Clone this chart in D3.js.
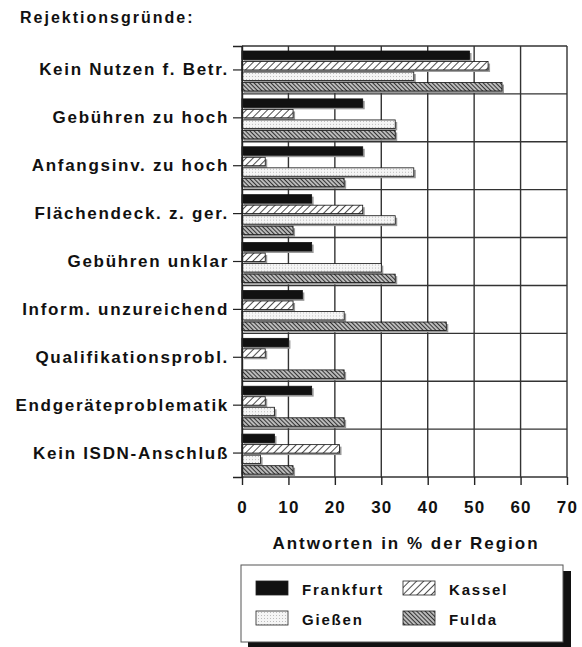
<!DOCTYPE html>
<html>
<head>
<meta charset="utf-8">
<script src="https://cdn.jsdelivr.net/npm/d3@7"></script>
<style>
  body { margin: 0; background: #fff; }
  text { font-family: "Liberation Sans", Arial, sans-serif; font-weight: bold; fill: #111; }
</style>
</head>
<body>
<div id="chart"></div>
<script>
// Rejektionsgründe, Antworten in % der Region

let categories = ["Kein Nutzen f. Betr.", "Gebühren zu hoch", "Anfangsinv. zu hoch",
  "Flächendeck. z. ger.", "Gebühren unklar", "Inform. unzureichend",
  "Qualifikationsprobl.", "Endgeräteproblematik", "Kein ISDN-Anschluß"]

let regions = ["Frankfurt", "Kassel", "Gießen", "Fulda"]

let frankfurt = [49, 26, 26, 15, 15, 13, 10, 15, 7]
let kassel    = [53, 11, 5, 26, 5, 11, 5, 5, 21]
let giessen   = [37, 33, 37, 33, 30, 22, 0, 7, 4]
let fulda     = [56, 33, 22, 11, 33, 44, 22, 22, 11]

let xTicks = [0, 10, 20, 30, 40, 50, 60, 70]

let values = { "Frankfurt": frankfurt, "Kassel": kassel, "Gießen": giessen, "Fulda": fulda }
let fills = { "Frankfurt": "#111", "Kassel": "url(#hatchKassel)", "Gießen": "url(#dots)", "Fulda": "url(#hatchFulda)" }

let svg = d3.select("#chart").append("svg")
  .attr("width", 582)
  .attr("height", 647)

// patterns
let defs = svg.append("defs")

let pk = defs.append("pattern").attr("id", "hatchKassel")
  .attr("patternUnits", "userSpaceOnUse").attr("width", 5).attr("height", 5)
  .attr("patternTransform", "rotate(45)")
pk.append("rect").attr("width", 5).attr("height", 5).attr("fill", "#fff")
pk.append("line").attr("x1", 0).attr("y1", 0).attr("x2", 0).attr("y2", 5)
  .attr("stroke", "#222").attr("stroke-width", 1.6)

let pf = defs.append("pattern").attr("id", "hatchFulda")
  .attr("patternUnits", "userSpaceOnUse").attr("width", 3).attr("height", 3)
  .attr("patternTransform", "rotate(-45)")
pf.append("rect").attr("width", 3).attr("height", 3).attr("fill", "#bbb")
pf.append("line").attr("x1", 0).attr("y1", 0).attr("x2", 0).attr("y2", 3)
  .attr("stroke", "#1a1a1a").attr("stroke-width", 1.7)

let pd = defs.append("pattern").attr("id", "dots")
  .attr("patternUnits", "userSpaceOnUse").attr("width", 3).attr("height", 3)
pd.append("rect").attr("width", 3).attr("height", 3).attr("fill", "#f5f5f5")
pd.append("rect").attr("width", 1).attr("height", 1).attr("fill", "#bdbdbd")

// scales
let x = d3.scaleLinear().domain([0, 70]).range([242, 567])
let y = d3.scaleBand().domain(categories).range([46, 477])
let yInner = d3.scaleBand().domain(regions).range([5, 45]).paddingInner(0.2)

// title
svg.append("text")
  .attr("x", 20).attr("y", 23)
  .style("font-size", "16px").style("letter-spacing", "2px")
  .text("Rejektionsgründe:")

// grid
let grid = svg.append("g")
grid.selectAll("line.v").data(xTicks).enter().append("line")
  .attr("x1", d => x(d)).attr("x2", d => x(d))
  .attr("y1", 46).attr("y2", 477)
  .attr("stroke", "#333").attr("stroke-width", 1.4)
grid.selectAll("line.h").data(categories).enter().append("line")
  .attr("x1", x(0)).attr("x2", x(70))
  .attr("y1", d => y(d)).attr("y2", d => y(d))
  .attr("stroke", "#333").attr("stroke-width", 1.4)
grid.append("line")
  .attr("x1", x(0)).attr("x2", x(70)).attr("y1", 477).attr("y2", 477)
  .attr("stroke", "#333").attr("stroke-width", 1.4)

// bars
let groups = svg.selectAll("g.cat").data(categories).enter().append("g")
  .attr("transform", d => "translate(0," + y(d) + ")")

regions.forEach(function (r) {
  groups.filter((d, i) => values[r][i] > 0).append("rect")
    .attr("x", x(0) + 2)
    .attr("y", yInner(r) + 2)
    .attr("width", (d) => x(values[r][categories.indexOf(d)]) - x(0))
    .attr("height", yInner.bandwidth())
    .attr("fill", "#999")
  groups.filter((d, i) => values[r][i] > 0).append("rect")
    .attr("x", x(0))
    .attr("y", yInner(r))
    .attr("width", (d) => x(values[r][categories.indexOf(d)]) - x(0))
    .attr("height", yInner.bandwidth())
    .attr("fill", fills[r])
    .attr("stroke", "#111").attr("stroke-width", 0.8)
})

// y axis
let yAxis = d3.axisLeft(y).tickSize(9).tickPadding(4)
let gy = svg.append("g").attr("transform", "translate(" + x(0) + ",0)").call(yAxis)
gy.select(".domain").attr("stroke", "#222").attr("stroke-width", 1.4)
gy.selectAll(".tick line").attr("stroke", "#222").attr("stroke-width", 1.2)
gy.selectAll(".tick text").style("font-size", "17px").attr("fill", "#111")
  .style("letter-spacing", "1.7px")
  .style("font-family", "'Liberation Sans', Arial, sans-serif").style("font-weight", "bold")

// x axis
let xAxis = d3.axisBottom(x).tickValues(xTicks).tickSize(8).tickPadding(16)
let gx = svg.append("g").attr("transform", "translate(0,477)").call(xAxis)
gx.select(".domain").remove()
gx.selectAll(".tick line").attr("stroke", "#222").attr("stroke-width", 1.4)
gx.selectAll(".tick text").style("font-size", "17px").attr("fill", "#111")
  .style("letter-spacing", "1.2px")
  .style("font-family", "'Liberation Sans', Arial, sans-serif").style("font-weight", "bold")

svg.append("text")
  .attr("x", 406).attr("y", 549)
  .attr("text-anchor", "middle")
  .style("font-size", "17px").style("letter-spacing", "2px")
  .text("Antworten in % der Region")

// legend
let legend = svg.append("g")
legend.append("rect").attr("x", 248).attr("y", 571).attr("width", 323).attr("height", 77).attr("fill", "#111")
legend.append("rect").attr("x", 241).attr("y", 565).attr("width", 322).attr("height", 77)
  .attr("fill", "#fff").attr("stroke", "#555").attr("stroke-width", 1)

let legendPos = [[256, 581], [403, 581], [256, 611], [403, 611]]
let legendOrder = ["Frankfurt", "Kassel", "Gießen", "Fulda"]
legendOrder.forEach(function (r, i) {
  let p = legendPos[i]
  legend.append("rect").attr("x", p[0]).attr("y", p[1]).attr("width", 32).attr("height", 14)
    .attr("fill", fills[r]).attr("stroke", "#222").attr("stroke-width", 0.8)
  legend.append("text").attr("x", p[0] + 46).attr("y", p[1] + 14)
    .style("font-size", "15px").style("letter-spacing", "1.8px")
    .text(r)
})
</script>
</body>
</html>
